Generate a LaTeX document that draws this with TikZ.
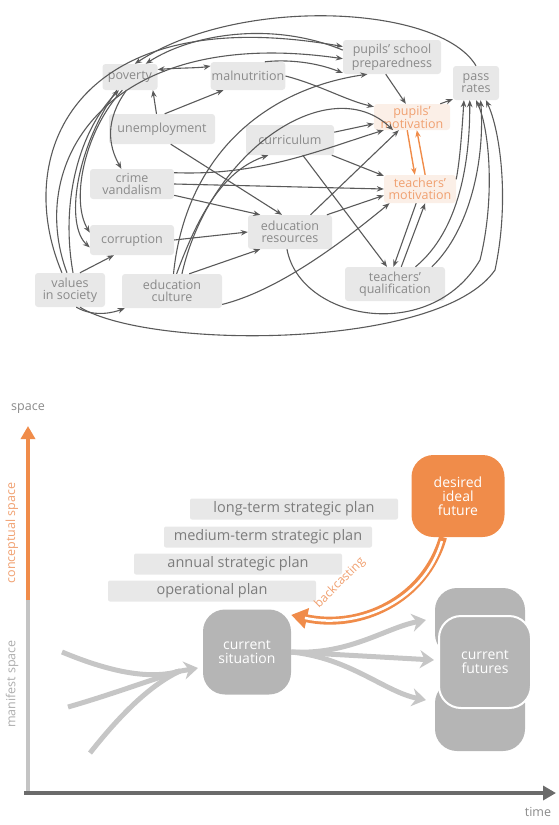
\documentclass[tikz,border=0pt]{standalone}
\usepackage{fontspec}
\setmainfont{Open Sans}
\usetikzlibrary{arrows.meta}
\definecolor{boxg}{HTML}{E8E8E8}
\definecolor{txtg}{HTML}{8A8A8A}
\definecolor{lineg}{HTML}{5A5A5A}
\definecolor{orng}{HTML}{F08C4A}
\definecolor{orngtxt}{HTML}{F0A070}
\definecolor{blobg}{HTML}{B5B5B5}
\definecolor{arrg}{HTML}{C6C6C6}
\definecolor{pbox}{HTML}{FBEFE7}
\begin{document}
\begin{tikzpicture}[x=1pt,y=-1pt,
  box/.style={fill=boxg, rounded corners=3pt, text=txtg, font=\fontsize{12.5}{11.5}\selectfont, align=center, inner sep=1pt},
  obox/.style={box, fill=pbox, text=orngtxt},
  edge/.style={draw=lineg, line width=1.1pt, -{Stealth[length=7pt,width=5.5pt]}},
  dedge/.style={edge, {Stealth[length=7pt,width=5.5pt]}-{Stealth[length=7pt,width=5.5pt]}},
  oedge/.style={draw=orng, line width=1.4pt, -{Stealth[length=7pt,width=5.5pt]}},
  plan/.style={fill=boxg, rounded corners=2pt, text=txtg!90!black, font=\fontsize{14.5}{14.5}\selectfont, minimum height=21pt, minimum width=208pt, inner sep=0pt},
  blob/.style={rounded corners=22pt, text=white, align=center, font=\fontsize{14}{14}\selectfont, inner sep=0pt},
  garrow/.style={draw=arrg, line width=5pt},
  gtip/.style={-{Stealth[length=14pt,width=18pt]}}
]
\useasboundingbox (0,0) rectangle (558,825);

% ---------------- top diagram nodes
\node[box, minimum width=55pt, minimum height=26pt] (pov) at (130,77) {poverty};
\node[box, minimum width=70pt, minimum height=28pt] (mal) at (248,76) {malnutrition};
\node[box, minimum width=106pt, minimum height=30pt] (une) at (162,129) {unemployment};
\node[box, minimum width=98pt, minimum height=34pt] (prep) at (392,57) {pupils' school\\preparedness};
\node[box, minimum width=46pt, minimum height=34pt] (pass) at (476,83) {pass\\rates};
\node[obox, minimum width=76pt, minimum height=26pt] (pmot) at (412,117) {pupils'\\motivation};
\node[box, minimum width=88pt, minimum height=30pt] (cur) at (290,140) {curriculum};
\node[box, minimum width=84pt, minimum height=30pt] (crime) at (132,184) {crime\\vandalism};
\node[obox, minimum width=72pt, minimum height=28pt] (tmot) at (420,189) {teachers'\\motivation};
\node[box, minimum width=84pt, minimum height=30pt] (corr) at (132,240) {corruption};
\node[box, minimum width=84pt, minimum height=34pt] (eres) at (290,232) {education\\resources};
\node[box, minimum width=70pt, minimum height=34pt] (vals) at (70,290) {values\\in society};
\node[box, minimum width=100pt, minimum height=34pt] (ecul) at (172,291) {education\\culture};
\node[box, minimum width=100pt, minimum height=34pt] (tq) at (395,284) {teachers'\\qualification};

% ---------------- top diagram connectors
\draw[edge] (pass.north) .. controls (440,5) and (240,-5) .. (pov.70);
\draw[edge] (prep.172) .. controls (270,20) and (190,35) .. (pov.40);
\draw[edge] (vals.115) .. controls (10,150) and (80,0) .. (prep.168);
\draw[edge] (vals.100) .. controls (25,160) and (110,25) .. (prep.182);
\draw[edge] (mal.40) .. controls (280,60) and (310,60) .. (prep.198);
\draw[dedge] (pov.15) .. controls (175,68) and (200,68) .. (mal.165);
\draw[edge] (une.110) -- (pov.330);
\draw[edge] (une.80) -- (mal.210);
\draw[edge] (vals.80) .. controls (60,200) and (80,130) .. (pov.230);
\draw[edge] (pov.255) .. controls (105,120) and (108,145) .. (crime.125);
\draw[edge] (pov.240) .. controls (85,130) and (70,200) .. (corr.170);
\draw[edge] (pov.225) .. controls (75,150) and (65,225) .. (corr.190);
\draw[edge] (vals.60) -- (corr.220);
\draw[edge] (vals.290) .. controls (95,318) and (115,312) .. (ecul.200);
\draw[edge] (vals.300) .. controls (150,350) and (440,350) .. (495,270) .. controls (510,200) and (500,130) .. (pass.300);
\draw[edge] (eres.260) .. controls (300,320) and (430,345) .. (480,260) .. controls (495,200) and (490,130) .. (pass.270);
\draw[edge] (tq.40) .. controls (460,230) and (470,160) .. (pass.250);
\draw[edge] (tq.25) .. controls (470,230) and (485,160) .. (pass.285);
\draw[edge] (tmot.15) .. controls (460,160) and (462,130) .. (pass.235);
\draw[edge] (pmot.25) -- (pass.215);
\draw[edge] (prep.250) -- (pmot.115);
\draw[edge] (mal.east) .. controls (320,85) and (345,100) .. (pmot.165);
\draw[edge] (cur.10) -- (pmot.190);
\draw[edge] (cur.340) -- (tmot.160);
\draw[edge] (cur.310) -- (tq.115);
\draw[edge] (crime.15) .. controls (260,176) and (320,150) .. (pmot.205);
\draw[edge] (crime.east) -- (tmot.west);
\draw[edge] (crime.345) -- (eres.150);
\draw[edge] (une.300) -- (eres.115);
\draw[edge] (corr.east) -- (eres.180);
\draw[edge] (ecul.45) -- (eres.210);
\draw[edge] (ecul.75) .. controls (200,210) and (225,170) .. (cur.215);
\draw[edge] (ecul.85) .. controls (185,160) and (260,90) .. (prep.215);
\draw[edge] (ecul.60) .. controls (210,150) and (330,70) .. (pmot.215);
\draw[edge] (ecul.345) .. controls (280,290) and (345,240) .. (tmot.205);
\draw[edge] (eres.25) -- (tmot.190);
\draw[edge] (eres.40) -- (pmot.225);
\draw[oedge] (pmot.250) -- (tmot.110);
\draw[oedge] (tmot.70) -- (pmot.290);
\draw[edge] (tmot.255) -- (tq.95);
\draw[edge] (tq.70) -- (tmot.290);

% ---------------- bottom diagram
\node[text=txtg, font=\fontsize{12.5}{12.5}\selectfont] (space) at (28,409) {space};
\node[text=txtg, font=\fontsize{12.5}{12.5}\selectfont] (time) at (538,812) {time};
\coordinate (ybot) at (28,792);
\coordinate (ymid) at (28,600);
\coordinate (ytop) at (28,426);
\draw[draw=blobg!80, line width=4pt] (ybot) -- (ymid);
\draw[draw=orng, line width=4pt, -{Triangle[length=13pt,width=14pt]}] (ymid) -- (ytop);
\node[rotate=90, text=orngtxt, font=\fontsize{12.5}{12.5}\selectfont] (cs-lab) at (12,533) {conceptual space};
\node[rotate=90, text=txtg!70, font=\fontsize{12.5}{12.5}\selectfont] (ms-lab) at (12,684) {manifest space};
\coordinate (xl) at (24,793);
\coordinate (xr) at (556,793);
\draw[draw=lineg!90, line width=3.5pt, -{Triangle[length=13pt,width=14pt]}] (xl) -- (xr);

\node[plan] (lt) at (294,509) {long-term strategic plan};
\node[plan] (mt) at (268,537) {medium-term strategic plan};
\node[plan] (an) at (238,564) {annual strategic plan};
\node[plan] (op) at (212,591) {operational plan};

\node[blob, fill=orng, minimum width=93pt, minimum height=82pt] (des) at (458,496) {desired\\ideal\\future};
\node[blob, fill=blobg, minimum width=88pt, minimum height=85pt] (cs) at (247,652) {current\\situation};
\node[blob, fill=blobg, minimum width=90pt, minimum height=68pt] (cft) at (480,622) {};
\node[blob, fill=blobg, minimum width=90pt, minimum height=70pt] (cfb) at (480,716) {};
\node[blob, fill=blobg, draw=white, line width=2pt, minimum width=92pt, minimum height=92pt] (cf) at (485,662) {current\\futures};

% gray arrows in
\coordinate (m) at (198,668);
\coordinate (i1) at (62,652);
\coordinate (i2) at (68,707);
\coordinate (i3) at (90,753);
\draw[garrow] (i1) .. controls (110,672) and (150,680) .. (180,671);
\draw[garrow] (i2) .. controls (110,695) and (150,680) .. (180,671);
\draw[garrow] (i3) .. controls (120,715) and (150,685) .. (180,671);
\draw[garrow, gtip] (175,672) -- (m);
% gray arrows out
\coordinate (o1) at (426,620);
\coordinate (o2) at (434,660);
\coordinate (o3) at (426,700);
\draw[garrow, gtip] (cs.east) .. controls (350,655) and (385,628) .. (o1);
\draw[garrow, gtip] (cs.east) -- (o2);
\draw[garrow, gtip] (cs.east) .. controls (350,658) and (385,692) .. (o3);

% backcasting
\draw[draw=orng, line width=8pt, -{Triangle[length=16pt,width=20pt]}] (des.250) .. controls (425,600) and (360,630) .. (cs.40);
\draw[draw=white, line width=2.5pt, shorten >=14pt, shorten <=4pt] (des.250) .. controls (425,600) and (360,630) .. (cs.40);
\node[text=orngtxt, rotate=45, font=\fontsize{12}{12}\selectfont] (bc) at (340,583) {backcasting};
\end{tikzpicture}
\end{document}
